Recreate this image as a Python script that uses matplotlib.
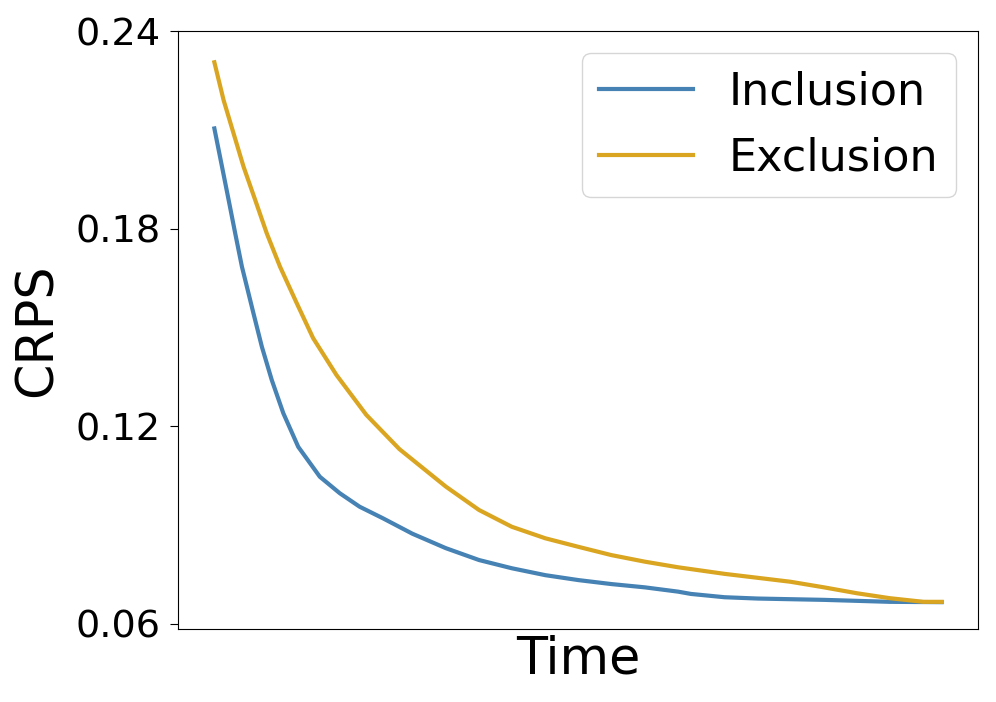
import matplotlib
matplotlib.use("Agg")
import matplotlib.pyplot as plt

# time axis positions (relative units, no ticks shown)
time_incl = [0, 1.05, 1.96, 2.87, 3.79, 4.24, 5.38, 6.53, 7.89, 9.48, 11.53,
             14.50, 17.24, 19.97, 23.16, 27.22, 31.83, 36.39, 40.90, 45.51, 50.07,
             54.58, 59.19, 63.75, 65.53, 70.14, 74.69, 79.21, 83.82, 88.37, 92.89, 100]
crps_incl = [0.2104, 0.1988, 0.1887, 0.1785, 0.1684, 0.1644, 0.1542, 0.1441, 0.1340,
             0.1239, 0.1137, 0.1046, 0.0996, 0.0955, 0.0920, 0.0873, 0.0829, 0.0793,
             0.0768, 0.0747, 0.0732, 0.0720, 0.0710, 0.0697, 0.0690, 0.0680, 0.0676,
             0.0674, 0.0672, 0.0669, 0.0666, 0.0665]

time_excl = [0, 1.27, 2.64, 4.01, 5.61, 7.21, 9.03, 11.31, 13.58, 16.79, 20.89,
             25.44, 31.83, 36.39, 40.90, 45.51, 50.07, 54.58, 59.19, 63.75, 70.14,
             74.69, 79.21, 83.82, 88.37, 92.89, 97.50, 100]
crps_excl = [0.2305, 0.2190, 0.2089, 0.1988, 0.1887, 0.1785, 0.1684, 0.1574, 0.1467,
             0.1355, 0.1234, 0.1130, 0.1016, 0.0945, 0.0894, 0.0859, 0.0833, 0.0808,
             0.0788, 0.0771, 0.0751, 0.0739, 0.0727, 0.0710, 0.0692, 0.0677, 0.0666,
             0.0666]

yticks = [0.06, 0.12, 0.18, 0.24]

fig = plt.figure(figsize=(9.96, 7.02), dpi=100)
ax = fig.add_axes([178 / 996, 1 - 628.5 / 702, 800 / 996, 597.5 / 702])

ax.plot(time_incl, crps_incl, color="steelblue", linewidth=3, label="Inclusion")
ax.plot(time_excl, crps_excl, color="goldenrod", linewidth=3, label="Exclusion")

ax.set_ylim(0.0585, 0.24)
ax.set_yticks(yticks)
ax.set_yticklabels([f"{v:.2f}" for v in yticks])
ax.set_xticks([])
ax.tick_params(axis="y", labelsize=27.5, length=5.5, pad=7)
ax.set_xlabel("Time", fontsize=36.5)
ax.set_ylabel("CRPS", fontsize=36.5, labelpad=9)
ax.legend(fontsize=32, handlelength=2.1, loc="upper right")

fig.savefig("out.png", dpi=100)
